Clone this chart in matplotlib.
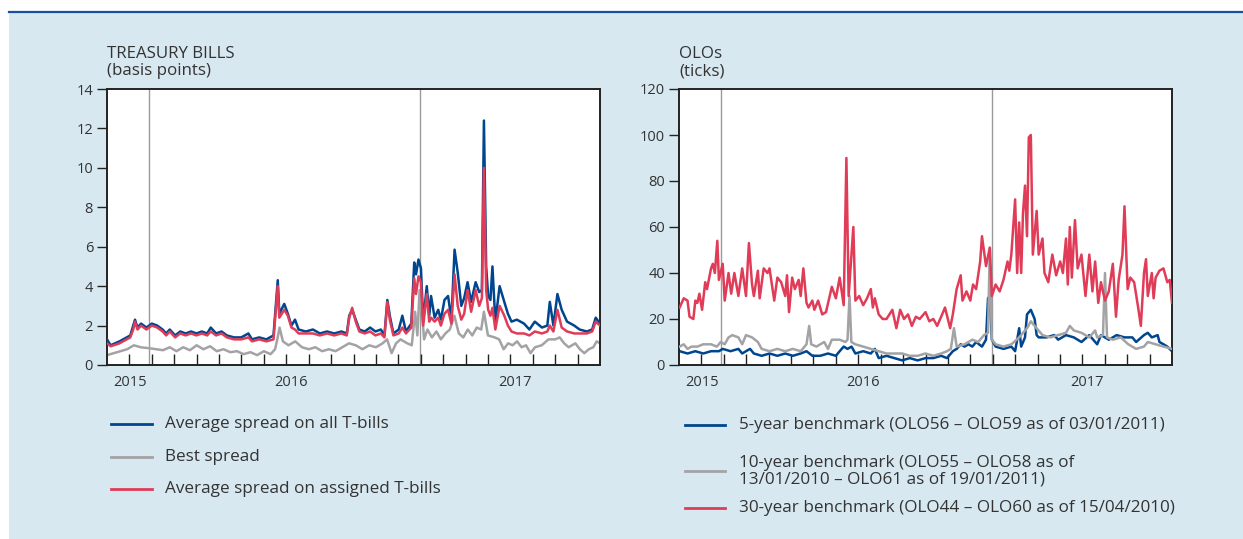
import matplotlib
matplotlib.use("Agg")
import matplotlib.pyplot as plt
from matplotlib.patches import Rectangle
from matplotlib.lines import Line2D
import matplotlib.transforms as mtransforms

plt.rcParams['font.family'] = ['Open Sans', 'DejaVu Sans']

# ---------------- data (x in months from start of axis) ----------------
tb_x = [0.0, 0.16, 0.56, 0.88, 1.04, 1.17, 1.25, 1.36, 1.52, 1.76, 2.0, 2.24, 2.48, 2.64, 2.8,
        3.04, 3.27, 3.51, 3.75, 3.99, 4.23, 4.47, 4.63, 4.87, 5.11, 5.35, 5.67, 5.99, 6.31, 6.47,
        6.79, 7.11, 7.43, 7.62, 7.69, 7.91, 8.07, 8.23, 8.39, 8.55, 8.87, 9.19, 9.5, 9.82, 10.14,
        10.46, 10.7, 10.81, 10.94, 11.1, 11.26, 11.5, 11.74, 11.98, 12.22, 12.38, 12.51, 12.62, 12.78,
        13.02, 13.18, 13.34, 13.58, 13.71, 13.79, 13.9, 14.01, 14.11, 14.27, 14.38, 14.46, 14.62,
        14.78, 14.9, 15.06, 15.22, 15.37, 15.51, 15.65, 15.81, 15.94, 16.09, 16.25, 16.45, 16.61,
        16.73, 16.82, 16.92, 17.01, 17.11, 17.2, 17.33, 17.52, 17.73, 17.89, 18.05, 18.29, 18.61,
        18.85, 19.09, 19.41, 19.65, 19.76, 19.92, 20.1, 20.29, 20.53, 20.85, 21.09, 21.41, 21.65,
        21.81, 22.0]
tb_all = [1.3, 1.0, 1.2, 1.4, 1.5, 2.0, 2.3, 1.9, 2.1, 1.9, 2.1, 2.0, 1.8, 1.6, 1.8,
          1.5, 1.7, 1.6, 1.7, 1.6, 1.7, 1.6, 1.9, 1.6, 1.7, 1.5, 1.4, 1.4, 1.6, 1.3,
          1.4, 1.3, 1.5, 4.3, 2.6, 3.1, 2.6, 2.0, 2.3, 1.8, 1.7, 1.8, 1.6, 1.7, 1.6,
          1.7, 1.6, 2.5, 2.8, 2.3, 1.8, 1.7, 1.9, 1.7, 1.8, 1.5, 3.3, 2.5, 1.6,
          1.8, 2.5, 1.7, 2.1, 5.2, 4.6, 5.35, 4.9, 2.2, 4.0, 2.5, 3.5, 2.4,
          2.8, 2.3, 3.3, 3.5, 2.3, 5.85, 4.7, 3.0, 3.4, 4.2, 3.2, 4.2, 3.7,
          3.8, 12.4, 5.0, 3.5, 3.3, 5.0, 2.2, 4.0, 3.2, 2.6, 2.2, 2.3, 2.1,
          1.8, 2.2, 1.9, 2.0, 3.2, 2.0, 3.6, 2.8, 2.2, 2.0, 1.8, 1.7, 1.8,
          2.4, 2.1]
tb_assigned = [1.1, 0.95, 1.1, 1.3, 1.4, 1.8, 2.2, 1.8, 2.0, 1.8, 2.0, 1.9, 1.7, 1.5, 1.7,
               1.4, 1.6, 1.5, 1.6, 1.5, 1.6, 1.5, 1.7, 1.5, 1.6, 1.4, 1.3, 1.3, 1.4, 1.2,
               1.3, 1.2, 1.3, 4.0, 2.4, 2.8, 2.5, 1.9, 1.8, 1.6, 1.6, 1.6, 1.5, 1.6, 1.5,
               1.6, 1.5, 2.4, 2.9, 2.2, 1.7, 1.6, 1.7, 1.5, 1.6, 1.4, 3.2, 2.3, 1.5,
               1.6, 1.9, 1.6, 1.9, 4.4, 3.6, 4.5, 4.2, 2.0, 3.6, 2.2, 2.4, 2.2,
               2.4, 2.0, 2.6, 2.8, 2.1, 4.6, 3.0, 2.3, 2.6, 3.8, 2.7, 3.8, 3.0,
               3.4, 10.0, 3.8, 2.8, 2.5, 2.9, 1.8, 3.0, 2.5, 2.0, 1.7, 1.6, 1.6,
               1.5, 1.7, 1.6, 1.7, 2.0, 1.7, 2.8, 1.9, 1.7, 1.6, 1.6, 1.6, 1.7,
               2.2, 2.0]
best_x = [0.0, 0.3, 0.6, 0.9, 1.2, 1.5, 1.9, 2.2, 2.5, 2.8, 3.1, 3.4, 3.7, 4.0, 4.3, 4.6, 4.9,
          5.2, 5.5, 5.8, 6.1, 6.4, 6.7, 7.0, 7.3, 7.5, 7.6, 7.7, 7.85, 8.1, 8.4, 8.7, 9.0, 9.3,
          9.6, 9.9, 10.2, 10.5, 10.8, 11.1, 11.4, 11.7, 12.0, 12.3, 12.5, 12.7, 12.9, 13.1, 13.4,
          13.6, 13.75, 13.85, 13.95, 14.05, 14.15, 14.3, 14.5, 14.7, 14.9, 15.1, 15.3, 15.5, 15.7,
          15.9, 16.1, 16.3, 16.5, 16.7, 16.82, 17.0, 17.3, 17.5, 17.7, 17.9, 18.1, 18.3, 18.5,
          18.7, 18.9, 19.1, 19.4, 19.7, 20.0, 20.2, 20.4, 20.6, 20.9, 21.1, 21.3, 21.5, 21.7,
          21.85, 22.0]
best_spread = [0.5, 0.6, 0.7, 0.8, 1.0, 0.9, 0.85, 0.8, 0.75, 0.9, 0.7, 0.9, 0.75, 1.0, 0.8, 0.95, 0.7,
               0.8, 0.65, 0.7, 0.55, 0.65, 0.5, 0.7, 0.55, 0.8, 1.3, 1.9, 1.2, 1.0, 1.2, 0.9, 0.8, 0.9,
               0.7, 0.8, 0.7, 0.9, 1.1, 1.0, 0.8, 1.0, 0.9, 1.1, 1.3, 0.6, 1.1, 1.3, 1.1,
               1.0, 2.7, 1.5, 3.8, 2.8, 1.3, 1.8, 1.4, 1.7, 1.3, 1.6, 1.8, 2.5, 1.6,
               1.4, 1.8, 1.5, 1.9, 1.8, 2.7, 1.5, 1.4, 1.3, 0.8, 1.1, 1.0, 1.2, 0.9,
               1.0, 0.6, 0.9, 1.0, 1.3, 1.3, 1.4, 1.1, 0.9, 1.1, 0.8, 0.6, 0.8, 0.9,
               1.2, 1.1]

olo5_x = [0.03, 0.38, 0.73, 1.08, 1.43, 1.78, 1.95, 2.30, 2.65, 2.82, 2.99, 3.17, 3.34, 3.69, 4.04,
          4.39, 4.74, 5.08, 5.43, 5.69, 5.95, 6.30, 6.65, 7.00, 7.17, 7.35, 7.52, 7.70, 7.87, 8.22,
          8.56, 8.74, 8.91, 9.26, 9.61, 9.96, 10.30, 10.65, 11.00, 11.35, 11.70, 11.96, 12.22, 12.39,
          12.57, 12.74, 12.92, 13.09, 13.26, 13.52, 13.70, 13.79, 13.87, 13.96, 14.13, 14.48, 14.83,
          15.00, 15.18, 15.27, 15.44, 15.53, 15.70, 15.87, 15.96, 16.05, 16.40, 16.74, 16.92, 17.27,
          17.62, 17.96, 18.31, 18.66, 18.83, 19.18, 19.53, 19.88, 20.23, 20.40, 20.75, 20.92, 21.10,
          21.36, 21.44, 21.62, 21.79, 22.00]
olo5 = [6, 5, 6, 5, 6, 6, 7, 6, 7, 5, 6, 7, 5, 4, 5,
        4, 5, 4, 5, 6, 4, 4, 5, 4, 6, 8, 7, 8, 5, 6,
        5, 7, 3, 4, 3, 2, 3, 2, 3, 3, 4, 3, 6, 7,
        9, 8, 9, 8, 10, 8, 11, 29, 30, 11, 8, 7, 8,
        6, 16, 8, 12, 22, 24, 20, 13, 12, 12, 13, 11, 13,
        12, 10, 13, 9, 13, 11, 13, 12, 12, 10, 13, 14, 12,
        13, 10, 9, 8, 6]

olo10_x = [0.03, 0.21, 0.38, 0.56, 0.82, 1.08, 1.43, 1.69, 1.86, 2.04, 2.21, 2.38, 2.65, 2.82, 2.99,
           3.26, 3.52, 3.69, 4.04, 4.39, 4.74, 5.08, 5.43, 5.69, 5.81, 5.90, 6.13, 6.48, 6.65, 6.82,
           7.17, 7.43, 7.52, 7.61, 7.69, 7.87, 8.22, 8.56, 8.91, 9.26, 9.61, 9.96, 10.30, 10.65,
           11.00, 11.35, 11.70, 11.96, 12.13, 12.27, 12.39, 12.74, 13.09, 13.35, 13.61, 13.79, 13.87,
           13.96, 14.13, 14.48, 14.83, 15.18, 15.53, 15.70, 15.87, 16.22, 16.57, 16.92, 17.27, 17.44,
           17.62, 17.96, 18.31, 18.57, 18.66, 18.92, 19.01, 19.10, 19.36, 19.71, 20.05, 20.40, 20.75,
           20.92, 21.27, 21.62, 22.00]
olo10 = [8, 9, 7, 8, 8, 9, 9, 8, 10, 9, 12, 13, 12, 9, 13,
         12, 10, 7, 6, 7, 6, 7, 6, 9, 17, 9, 8, 10, 7, 11,
         11, 10, 11, 30, 10, 9, 8, 7, 6, 5, 5, 5, 4, 4,
         5, 4, 5, 6, 7, 16, 8, 9, 11, 10, 13, 14, 51,
         11, 9, 8, 9, 12, 16, 19, 17, 13, 12, 13, 14, 17,
         15, 14, 12, 15, 12, 13, 40, 12, 11, 12, 9, 7, 8,
         10, 9, 8, 7]

olo30_x = [0.03, 0.21, 0.38, 0.47, 0.64, 0.73, 0.82, 0.91, 1.03, 1.17, 1.25, 1.43, 1.51, 1.60, 1.71,
           1.78, 1.95, 2.04, 2.21, 2.33, 2.47, 2.65, 2.82, 2.99, 3.12, 3.26, 3.34, 3.52, 3.60, 3.78,
           3.95, 4.04, 4.25, 4.39, 4.56, 4.74, 4.82, 4.91, 5.05, 5.17, 5.34, 5.43, 5.55, 5.69, 5.78,
           5.95, 6.04, 6.21, 6.39, 6.56, 6.82, 7.00, 7.17, 7.35, 7.47, 7.57, 7.78, 7.87, 8.04, 8.22,
           8.39, 8.56, 8.65, 8.74, 8.91, 9.09, 9.26, 9.52, 9.70, 9.87, 10.04, 10.22, 10.39, 10.57,
           10.74, 11.00, 11.17, 11.35, 11.52, 11.70, 11.87, 12.10, 12.22, 12.39, 12.57, 12.65, 12.83,
           13.00, 13.12, 13.26, 13.44, 13.52, 13.70, 13.87, 13.96, 14.13, 14.31, 14.48, 14.66, 14.74,
           14.83, 15.00, 15.09, 15.18, 15.27, 15.35, 15.44, 15.53, 15.61, 15.70, 15.79, 15.96, 16.05,
           16.22, 16.31, 16.48, 16.66, 16.83, 17.01, 17.13, 17.27, 17.35, 17.44, 17.53, 17.67, 17.79,
           17.96, 18.14, 18.31, 18.45, 18.57, 18.71, 18.83, 19.01, 19.18, 19.36, 19.50, 19.62, 19.79,
           19.88, 20.02, 20.14, 20.31, 20.49, 20.61, 20.75, 20.84, 20.92, 21.10, 21.18, 21.27, 21.44,
           21.62, 21.79, 21.90, 22.00]
olo30 = [25, 29, 28, 21, 20, 28, 27, 31, 24, 36, 33, 42, 44, 40, 54,
         37, 44, 28, 40, 31, 40, 30, 42, 30, 53, 35, 30, 41, 29, 42,
         40, 42, 28, 38, 36, 30, 39, 23, 38, 33, 37, 30, 42, 27, 25,
         28, 24, 28, 22, 23, 34, 29, 38, 26, 90, 30, 60, 28, 30, 26,
         29, 33, 25, 29, 22, 20, 20, 24, 16, 24, 20, 22, 17, 21,
         20, 23, 19, 20, 17, 21, 25, 16, 22, 33, 39, 28, 32,
         28, 35, 33, 45, 56, 43, 51, 30, 35, 32, 37, 45, 41,
         48, 72, 40, 62, 40, 66, 78, 56, 99, 100, 48, 67, 48,
         55, 40, 36, 48, 39, 45, 40, 55, 35, 60, 38, 63, 42,
         48, 30, 48, 32, 45, 27, 36, 28, 32, 44, 21, 37, 48,
         69, 33, 38, 36, 25, 17, 40, 46, 30, 40, 29, 38, 41,
         42, 36, 37, 27]

tb_labels = ["Average spread on all T-bills", "Best spread", "Average spread on assigned T-bills"]
olo_labels = ["5-year benchmark (OLO56 \u2013 OLO59 as of 03/01/2011)",
              "10-year benchmark (OLO55 \u2013 OLO58 as of\n13/01/2010 \u2013 OLO61 as of 19/01/2011)",
              "30-year benchmark (OLO44 \u2013 OLO60 as of 15/04/2010)"]
year_labels = ["2015", "2016", "2017"]
year_pos = [1.05, 8.2, 18.2]
month_ticks = list(range(1, 22))
year_breaks = [1.88, 13.95]

# ---------------- style ----------------
BLUE = "#00468e"
GREY = "#a3a3a6"
RED = "#e03c58"
BG = "#d7e8f1"
TXT = "#333333"

W, H = 1243, 539
fig = plt.figure(figsize=(W / 100, H / 100), dpi=100)
fig.patch.set_facecolor("white")
fig.add_artist(Rectangle((9 / W, 0), 1 - 9 / W, 1 - 13 / H, transform=fig.transFigure,
                         facecolor=BG, edgecolor="none", zorder=0))
fig.add_artist(Line2D([9 / W, 1], [1 - 12 / H, 1 - 12 / H], transform=fig.transFigure,
                      color="#1a4f9a", lw=1.6, zorder=1))


def make_axes(x0_px, ymax, ystep):
    ax = fig.add_axes([x0_px / W, 1 - 365 / H, 493 / W, 276 / H])
    ax.set_facecolor("white")
    ax.set_xlim(0, 22)
    ax.set_ylim(0, ymax)
    ax.set_yticks(list(range(0, ymax + 1, ystep)))
    ax.set_xticks(month_ticks)
    ax.set_xticklabels([])
    ax.tick_params(axis="x", direction="in", length=8, width=1, color="#222222")
    ax.tick_params(axis="y", direction="out", length=7, width=1, color="#222222",
                   labelsize=10.5, labelcolor=TXT, pad=3)
    for s in ax.spines.values():
        s.set_linewidth(1.4)
        s.set_color("#222222")
    for xb in year_breaks:
        ax.axvline(xb, color="#9a9a9a", lw=1.0, zorder=1)
    trans = mtransforms.blended_transform_factory(ax.transData, ax.transAxes)
    for lab, pos in zip(year_labels, year_pos):
        ax.text(pos, -0.062, lab, transform=trans, ha="center", va="center",
                fontsize=10.5, color=TXT)
    return ax


ax1 = make_axes(107, 14, 2)
ax1.plot(best_x, best_spread, color=GREY, lw=1.8, zorder=2)
ax1.plot(tb_x, tb_all, color=BLUE, lw=1.8, zorder=3)
ax1.plot(tb_x, tb_assigned, color=RED, lw=1.8, zorder=4)

ax2 = make_axes(679, 120, 20)
ax2.plot(olo5_x, olo5, color=BLUE, lw=1.8, zorder=2)
ax2.plot(olo10_x, olo10, color=GREY, lw=1.8, zorder=3)
ax2.plot(olo30_x, olo30, color=RED, lw=1.8, zorder=4)

fig.text(107 / W, 1 - 79 / H, "TREASURY BILLS\n(basis points)", ha="left", va="bottom",
         fontsize=12.2, color=TXT, linespacing=1.1)
fig.text(679 / W, 1 - 79 / H, "OLOs\n(ticks)", ha="left", va="bottom",
         fontsize=12.2, color=TXT, linespacing=1.1)

# legends
for lab, col, ypx in zip(tb_labels, [BLUE, GREY, RED], [424, 457, 489]):
    fig.add_artist(Line2D([111 / W, 152 / W], [1 - ypx / H] * 2, transform=fig.transFigure,
                          color=col, lw=2))
    fig.text(165 / W, 1 - ypx / H, lab, ha="left", va="center", fontsize=12.3, color=TXT)

for lab, col, ypx in zip(olo_labels, [BLUE, GREY, RED], [425, 471, 508]):
    fig.add_artist(Line2D([685 / W, 725 / W], [1 - ypx / H] * 2, transform=fig.transFigure,
                          color=col, lw=2))
    fig.text(739 / W, 1 - ypx / H, lab, ha="left", va="center", fontsize=12.3, color=TXT,
             linespacing=1.05)

fig.savefig("out.png", dpi=100, facecolor=fig.get_facecolor())
